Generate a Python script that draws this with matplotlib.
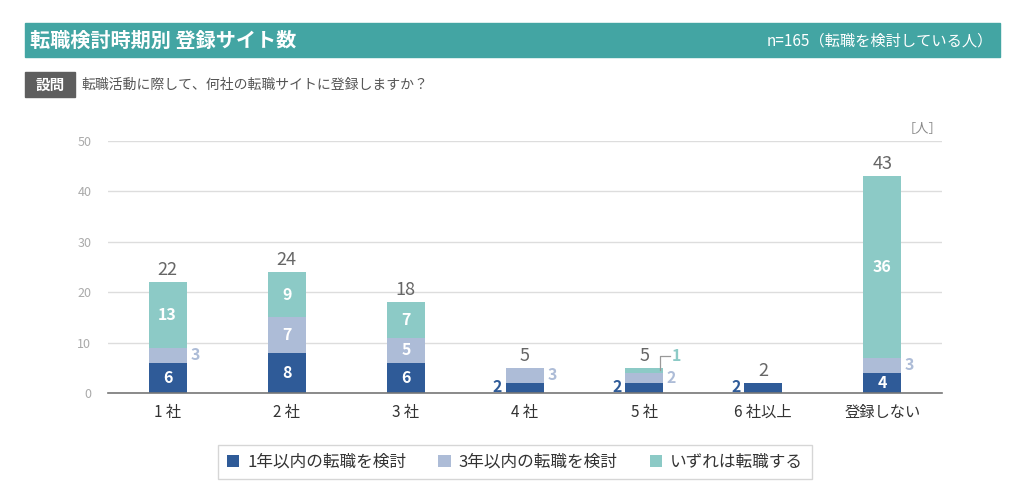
import numpy as np
import matplotlib.pyplot as plt
from matplotlib.patches import Rectangle

plt.rcParams['font.family'] = ['Noto Sans CJK JP', 'DejaVu Sans']

categories = ['1 社', '2 社', '3 社', '4 社', '5 社', '6 社以上', '登録しない']
within_1y = [6, 8, 6, 2, 2, 2, 4]
within_3y = [3, 7, 5, 3, 2, 0, 3]
someday = [13, 9, 7, 0, 1, 0, 36]
series_names = ['1年以内の転職を検討', '3年以内の転職を検討', 'いずれは転職する']

C1 = '#2f5b98'
C2 = '#adbcd7'
C3 = '#8ccac6'
TEAL = '#43a5a3'

fig = plt.figure(figsize=(10.24, 5.03), dpi=100)

# header bar
fig.patches.append(Rectangle((25 / 1024, 1 - 57 / 503), 975 / 1024, 34 / 503,
                             transform=fig.transFigure, color=TEAL, zorder=0))
fig.text(30 / 1024, 1 - 40 / 503, '転職検討時期別 登録サイト数', color='white',
         fontsize=14.5, fontweight='bold', va='center', ha='left')
fig.text(993 / 1024, 1 - 41 / 503, 'n=165（転職を検討している人）', color='white',
         fontsize=11, va='center', ha='right')

# question line
fig.patches.append(Rectangle((25 / 1024, 1 - 97 / 503), 50 / 1024, 25 / 503,
                             transform=fig.transFigure, color='#5e5e5e', zorder=0))
fig.text(50 / 1024, 1 - 85 / 503, '設問', color='white', fontsize=10.5,
         fontweight='bold', va='center', ha='center')
fig.text(81 / 1024, 1 - 85 / 503, '転職活動に際して、何社の転職サイトに登録しますか？',
         color='#555555', fontsize=10, va='center', ha='left')

ax = fig.add_axes([108 / 1024, 1 - 393 / 503, 834 / 1024, 252 / 503])
x = np.arange(len(categories))
w = 0.32
a = np.array(within_1y)
b = np.array(within_3y)
c = np.array(someday)
ax.bar(x, a, w, color=C1, label=series_names[0], zorder=3)
ax.bar(x, b, w, bottom=a, color=C2, label=series_names[1], zorder=3)
ax.bar(x, c, w, bottom=a + b, color=C3, label=series_names[2], zorder=3)

ax.set_xlim(-0.5, len(categories) - 0.5)
ax.set_ylim(0, 50)
ax.set_yticks(range(0, 51, 10))
ax.yaxis.grid(True, color='#dddddd', linewidth=1, zorder=0)
ax.tick_params(axis='y', length=0, labelsize=9, labelcolor='#aaaaaa', pad=12)
ax.tick_params(axis='x', length=0, labelsize=11, labelcolor='#333333', pad=8)
ax.set_xticks(x)
ax.set_xticklabels(categories)
for s in ['top', 'right', 'left']:
    ax.spines[s].set_visible(False)
ax.spines['bottom'].set_color('#777777')
ax.spines['bottom'].set_linewidth(1.2)
ax.spines['bottom'].set_zorder(4)

ax.text(1.0, 1.02, '［人］', transform=ax.transAxes, ha='right', va='bottom',
        fontsize=9.5, color='#888888')

for i in range(len(categories)):
    total = a[i] + b[i] + c[i]
    ax.text(x[i], total + 0.6, str(total), ha='center', va='bottom',
            fontsize=13, color='#666666')
    # 1年以内
    if a[i] >= 4:
        ax.text(x[i], a[i] / 2, str(a[i]), ha='center', va='center',
                color='white', fontsize=11.5, fontweight='bold', zorder=5)
    elif a[i] > 0:
        ax.text(x[i] - w / 2 - 0.03, a[i] / 2 + 0.2, str(a[i]), ha='right', va='center',
                color=C1, fontsize=11.5, fontweight='bold')
    # 3年以内
    if b[i] >= 4:
        ax.text(x[i], a[i] + b[i] / 2, str(b[i]), ha='center', va='center',
                color='white', fontsize=11.5, fontweight='bold', zorder=5)
    elif b[i] > 0:
        ax.text(x[i] + w / 2 + 0.03, a[i] + b[i] / 2, str(b[i]), ha='left', va='center',
                color=C2, fontsize=11.5, fontweight='bold')
    # いずれは
    if c[i] >= 4:
        ax.text(x[i], a[i] + b[i] + c[i] / 2, str(c[i]), ha='center', va='center',
                color='white', fontsize=11.5, fontweight='bold', zorder=5)
    elif c[i] > 0:
        y0 = a[i] + b[i] + c[i] / 2
        ax.plot([x[i] + 0.13, x[i] + 0.13, x[i] + 0.22], [y0, 7.4, 7.4],
                color='#999999', linewidth=0.9, zorder=5)
        ax.text(x[i] + 0.23, 7.4, str(c[i]), ha='left', va='center',
                color=C3, fontsize=11.5, fontweight='bold')

leg = fig.legend(loc='center', bbox_to_anchor=(515 / 1024, 1 - 462 / 503), ncol=3,
                 frameon=True, fontsize=12, handlelength=0.75, handleheight=0.75,
                 handletextpad=0.5, columnspacing=1.9, borderpad=0.5,
                 borderaxespad=0, fancybox=False, edgecolor='#cccccc')
leg.get_frame().set_boxstyle('square', pad=0.0)
for t in leg.get_texts():
    t.set_color('#333333')
# widen the frame a bit to match the reference box
fr = leg.get_frame()
fr.set_x(fr.get_x())

fig.savefig('out.png', dpi=100)
